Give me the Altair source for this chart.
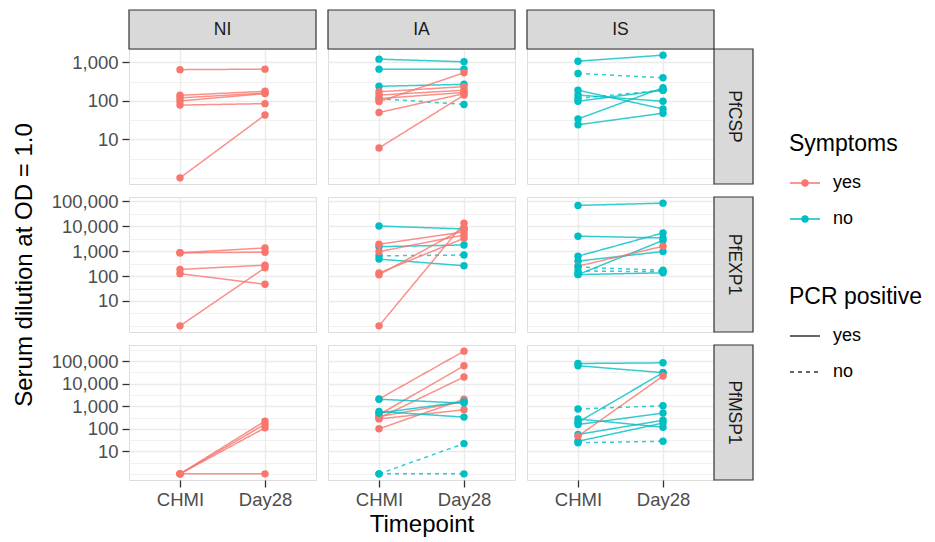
import json
import math

import altair as alt
import pandas as pd

FONT = "Liberation Sans"
GROUPS = ["NI", "IA", "IS"]
ANTIGENS = ["PfCSP", "PfEXP1", "PfMSP1"]
TIMEPOINTS = ["CHMI", "Day28"]

# ---- one entry per subject/antigen line ----
antigen = ["PfCSP"] * 24 + ["PfEXP1"] * 23 + ["PfMSP1"] * 25
group = (["NI"] * 6 + ["IA"] * 10 + ["IS"] * 8
         + ["NI"] * 5 + ["IA"] * 9 + ["IS"] * 9
         + ["NI"] * 4 + ["IA"] * 11 + ["IS"] * 10)
symptoms = (["yes"] * 6 + ["no"] * 4 + ["yes"] * 6 + ["no"] * 8
            + ["yes"] * 5 + ["no"] * 4 + ["yes"] * 5 + ["no"] * 6 + ["yes"] + ["no"] * 2
            + ["yes"] * 4 + ["yes"] * 6 + ["no"] * 5 + ["no"] * 7 + ["yes"] + ["no"] * 2)
pcr = (["yes"] * 6 + ["yes"] * 3 + ["no"] + ["yes"] * 6 + ["yes"] * 6 + ["no"] * 2
       + ["yes"] * 5 + ["yes"] * 3 + ["no"] + ["yes"] * 5 + ["yes"] * 7 + ["no"] * 2
       + ["yes"] * 4 + ["yes"] * 9 + ["no"] * 2 + ["yes"] * 8 + ["no"] * 2)
chmi = ([650, 140, 120, 100, 78, 1]
        + [1220, 670, 240, 115, 173, 142, 115, 96, 50, 6]
        + [1080, 190, 142, 98, 34, 24, 520, 116]
        + [860, 860, 185, 125, 1]
        + [10200, 1520, 480, 650, 1900, 960, 132, 112, 1]
        + [69000, 4000, 630, 400, 115, 115, 250, 230, 160]
        + [1, 1, 1, 1]
        + [2100, 420, 300, 100, 275, 350, 2050, 590, 500, 1, 1]
        + [79000, 63000, 195, 275, 155, 56, 28, 47, 760, 24])
day28 = ([670, 178, 160, 155, 85, 43]
         + [1040, 670, 270, 81, 235, 190, 166, 540, 155, 142]
         + [1550, 62, 98, 190, 220, 48, 400, 190]
         + [1350, 910, 275, 47, 215]
         + [7800, 1780, 260, 700, 6000, 4450, 3300, 8300, 13200]
         + [85000, 3400, 5400, 970, 2700, 135, 1580, 170, 150]
         + [220, 160, 110, 1]
         + [280000, 63000, 20000, 2050, 700, 1600, 1380, 330, 1600, 22, 1]
         + [85000, 31000, 31000, 117, 500, 240, 180, 22000, 1050, 28])

rows = []
for i in range(len(antigen)):
    for tp, v in zip(TIMEPOINTS, (chmi[i], day28[i])):
        rows.append({"id": i, "antigen": antigen[i], "group": group[i],
                     "Symptoms": symptoms[i], "PCR": "pcr_" + pcr[i],
                     "Timepoint": tp, "value": v})
df = pd.DataFrame(rows)

# ---- styling ----
RED, CYAN = "#F8766D", "#00BFC4"
GRID = "#EBEBEB"
W, H, S = 187, 135, 39

cscale = alt.Scale(domain=["yes", "no"], range=[RED, CYAN])
dscale = alt.Scale(domain=["pcr_yes", "pcr_no"], range=[[1, 0], [4, 4]])

PATH = ("M-1,0L1,0"
        "M-0.21,0A0.21,0.21,0,1,0,0.21,0A0.21,0.21,0,1,0,-0.21,0Z"
        "M-0.13,0A0.13,0.13,0,1,0,0.13,0A0.13,0.13,0,1,0,-0.13,0Z"
        "M-0.05,0A0.05,0.05,0,1,0,0.05,0A0.05,0.05,0,1,0,-0.05,0Z")

leg_common = dict(orient="none", titleFont=FONT, titleFontSize=23, titleFontWeight="normal",
                  titleColor="black", labelFont=FONT, labelFontSize=18, labelColor="black",
                  symbolSize=900, symbolStrokeWidth=1.3, rowPadding=11, titlePadding=11,
                  labelOffset=12, padding=0, titleLimit=300)
leg_sym = alt.Legend(title="Symptoms", legendX=660, legendY=84, symbolType=PATH, **leg_common)
leg_pcr = alt.Legend(title="PCR positive", legendX=660, legendY=237, symbolType="stroke",
                     symbolStrokeColor="#333333",
                     labelExpr="datum.label == 'pcr_yes' ? 'yes' : 'no'", **leg_common)


def log_domain(ant):
    v = df[df.antigen == ant]["value"]
    lo, hi = math.log10(v.min()), math.log10(v.max())
    pad = 0.05 * (hi - lo)
    return [10 ** (lo - pad), 10 ** (hi + pad)]


def tick_values(dom):
    lo, hi = math.log10(dom[0]), math.log10(dom[1])
    vals, majors = [], []
    k = math.ceil(lo * 2)
    while k / 2 <= hi:
        if k % 2 == 0:
            v = 10 ** (k // 2)
            if k >= 2:
                majors.append(v)
        else:
            v = 10 ** (k / 2)
        vals.append(v)
        k += 1
    return vals, majors


def cell(ant, grp, r, c):
    d = df[(df.antigen == ant) & (df.group == grp)]
    dom = log_domain(ant)
    vals, majors = tick_values(dom)
    test = "indexof(%s, datum.value) >= 0" % json.dumps(majors)
    left, bottom = c == 0, r == 2

    ykw = dict(values=vals, grid=True, gridColor=GRID,
               gridWidth={"condition": {"test": test, "value": 1.4}, "value": 0.7},
               domain=False, labels=left, ticks=left)
    if left:
        ykw.update(labelExpr="%s ? format(datum.value, ',') : ''" % test,
                   tickOpacity={"condition": {"test": test, "value": 1}, "value": 0},
                   tickColor="#333333", tickSize=7, tickWidth=1.3,
                   labelColor="#4D4D4D", labelFont=FONT, labelFontSize=18.5, labelPadding=4,
                   titleFont=FONT, titleFontSize=24, titleFontWeight="normal",
                   titleColor="black", titlePadding=15)
    ykw["title"] = "Serum dilution at OD = 1.0" if (left and r == 1) else None
    yaxis = alt.Axis(**ykw)

    xkw = dict(grid=True, gridColor=GRID, gridWidth=1.4, domain=False,
               labels=bottom, ticks=bottom, labelAngle=0)
    if bottom:
        xkw.update(tickColor="#333333", tickSize=7, tickWidth=1.3,
                   labelColor="#4D4D4D", labelFont=FONT, labelFontSize=18.5, labelPadding=3,
                   titleFont=FONT, titleFontSize=24, titleFontWeight="normal",
                   titleColor="black", titlePadding=4)
    xkw["title"] = "Timepoint" if (bottom and c == 1) else None
    xaxis = alt.Axis(**xkw)

    ex = alt.X("Timepoint:N", sort=TIMEPOINTS,
               scale=alt.Scale(type="point", padding=0.6, domain=TIMEPOINTS), axis=xaxis)
    ey = alt.Y("value:Q", scale=alt.Scale(type="log", domain=dom, nice=False), axis=yaxis)

    base = alt.Chart(d)
    lines = base.mark_line(strokeWidth=1.5, strokeOpacity=0.8).encode(
        x=ex, y=ey,
        color=alt.Color("Symptoms:N", scale=cscale, legend=leg_sym),
        strokeDash=alt.StrokeDash("PCR:N", scale=dscale, legend=leg_pcr),
        detail="id:N",
    )
    pts = base.mark_circle(size=55, opacity=1).encode(
        x=ex, y=ey, color=alt.Color("Symptoms:N", scale=cscale, legend=None)
    )
    layers = [lines, pts]
    if r == 0:
        sd = pd.DataFrame({"label": [grp]})
        layers.append(alt.Chart(sd).mark_rect(fill="#D9D9D9", stroke="#333333", strokeWidth=1.2).encode(
            x=alt.value(0), x2=alt.value(W), y=alt.value(-S), y2=alt.value(0)))
        layers.append(alt.Chart(sd).mark_text(font=FONT, fontSize=17.5, color="#1A1A1A").encode(
            text="label:N", x=alt.value(W / 2), y=alt.value(-S / 2)))
    if c == 2:
        sd = pd.DataFrame({"label": [ant]})
        layers.append(alt.Chart(sd).mark_rect(fill="#D9D9D9", stroke="#333333", strokeWidth=1.2).encode(
            x=alt.value(W), x2=alt.value(W + S), y=alt.value(0), y2=alt.value(H)))
        layers.append(alt.Chart(sd).mark_text(font=FONT, fontSize=17.5, color="#1A1A1A", angle=90).encode(
            text="label:N", x=alt.value(W + S / 2), y=alt.value(H / 2)))
    return alt.layer(*layers).properties(width=W, height=H)


cells = [cell(a, g, r, c) for r, a in enumerate(ANTIGENS) for c, g in enumerate(GROUPS)]

chart = (
    alt.concat(*cells, columns=3, spacing={"row": 13, "column": 12}, bounds="flush")
    .properties(padding={"left": 3, "top": 0, "right": 0, "bottom": 0})
    .configure_view(stroke="#333333", strokeWidth=1.2)
    .configure(font=FONT, background="white")
)

chart.save("out.html", embed_options={"renderer": "svg", "actions": False})
